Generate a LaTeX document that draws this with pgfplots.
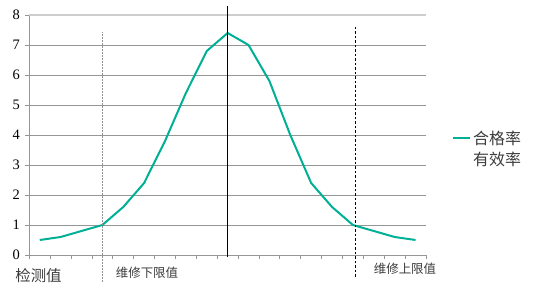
\documentclass[border=0pt]{standalone}
\usepackage{fontspec}
\usepackage{pgfplots}
\pgfplotsset{compat=1.18}
\setmainfont{Liberation Serif}
\newfontfamily\cjk{Noto Sans CJK SC}
\definecolor{teal1}{RGB}{0,176,150}
\definecolor{gridc}{RGB}{150,150,150}
\definecolor{topc}{RGB}{205,205,205}
\definecolor{txt}{RGB}{60,60,60}
\begin{document}
\begin{tikzpicture}
\useasboundingbox (0,0) rectangle (533bp,294bp);
\begin{axis}[
  at={(29.3bp,39bp)}, anchor=south west,
  scale only axis, width=396.7bp, height=240bp,
  xmin=-0.5, xmax=18.5, ymin=0, ymax=8,
  clip=false,
  axis x line*=bottom, axis y line*=left,
  axis line style={gridc, line width=0.8bp},
  xtick={-0.5,0.5,...,18.5}, xticklabels={},
  ytick={0,...,7}, extra y ticks={8},
  extra y tick style={grid style={topc, line width=1.6bp}},
  ymajorgrids, grid style={gridc, line width=0.8bp},
  tick align=outside, major tick length=4bp,
  tick style={gridc, line width=0.8bp},
  /pgf/number format/assume math mode=true,
  yticklabel style={font=\fontsize{14.5}{14.5}\selectfont, text=black, xshift=-2bp},
  legend style={at={(1.058,0.442)}, anchor=west, draw=none, fill=none,
    font=\cjk\fontsize{16}{18}\selectfont, text=txt, row sep=2.5bp},
  legend cell align=left,
]
\addplot[teal1, line width=2bp] coordinates {
 (0,0.5) (1,0.6) (2,0.8) (3,1.0) (4,1.6) (5,2.4) (6,3.8) (7,5.4) (8,6.8) (9,7.4)
 (10,7.0) (11,5.8) (12,4.0) (13,2.4) (14,1.6) (15,1.0) (16,0.8) (17,0.6) (18,0.5)};
\addlegendentry{合格率}
\addlegendimage{draw opacity=0}
\addlegendentry{有效率}
\addplot[gray!85, dash pattern=on 1.5bp off 1.5bp, line width=1.2bp, forget plot] coordinates {(3,-0.89) (3,7.44)};
\addplot[black, dash pattern=on 2.5bp off 2bp, line width=0.7bp, forget plot] coordinates {(15.12,-0.72) (15.12,7.63)};
\addplot[black, line width=1.4bp, forget plot] coordinates {(9,-0.08) (9,8.3)};
\end{axis}
\node[font=\cjk\fontsize{15.5}{15.5}\selectfont, text=txt] at (38.5bp,18.3bp) {检测值};
\node[font=\cjk\fontsize{12.5}{12.5}\selectfont, text=txt] at (147bp,21.7bp) {维修下限值};
\node[font=\cjk\fontsize{12.5}{12.5}\selectfont, text=txt] at (405bp,25.7bp) {维修上限值};
\end{tikzpicture}
\end{document}
